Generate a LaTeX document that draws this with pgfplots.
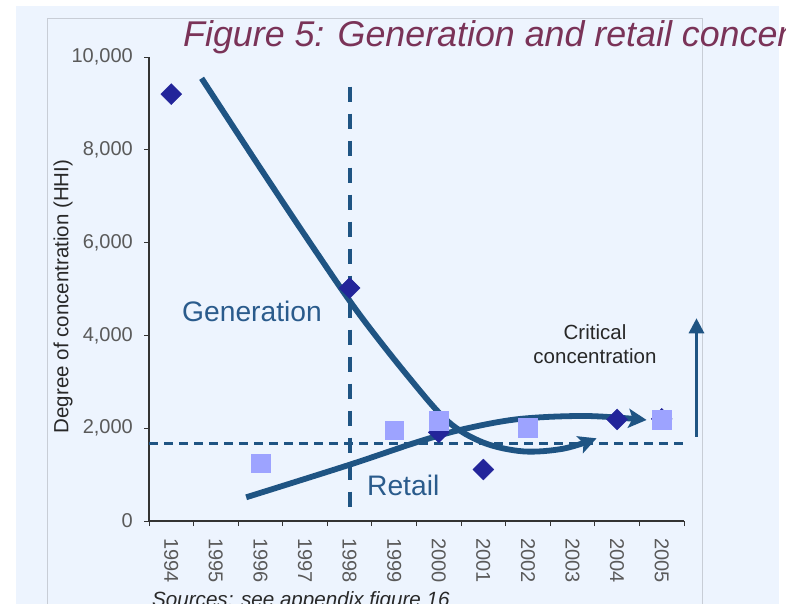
\documentclass[border=0pt]{standalone}
\usepackage{fontspec}
\setmainfont{Liberation Sans}
\usepackage{pgfplots}
\pgfplotsset{compat=1.18}
\usetikzlibrary{arrows.meta}
\definecolor{bgblue}{RGB}{237,244,254}
\definecolor{framegray}{RGB}{200,205,214}
\definecolor{curveblue}{RGB}{31,84,131}
\definecolor{diamondblue}{RGB}{35,37,154}
\definecolor{squareblue}{RGB}{157,163,255}
\definecolor{textblue}{RGB}{42,91,140}
\definecolor{titlepurple}{RGB}{122,51,88}
\definecolor{ticklabelgray}{RGB}{90,90,90}
\definecolor{axisgray}{RGB}{51,51,51}
\definecolor{darktext}{RGB}{40,40,40}
\begin{document}
\begin{tikzpicture}[x=1pt,y=1pt]
\useasboundingbox (0,0) rectangle (786,-603);
\clip (0,0) rectangle (786,-603);
\fill[bgblue] (16,-6) rectangle (779,-610);
\draw[framegray, line width=1pt] (47,-18) rectangle (702,-640);
\node[anchor=base west, inner sep=0pt, text=titlepurple, font=\fontsize{35.8}{42}\selectfont\itshape] at (183,-46.7) {Figure 5: Generation and retail concentration};
\begin{axis}[
  at={(149pt,-521pt)}, anchor=south west,
  scale only axis, width=535pt, height=464pt,
  xmin=-0.5, xmax=11.5, ymin=0, ymax=10000,
  axis lines=left,
  axis line style={-, draw=axisgray, line width=1.2pt},
  clip=false,
  scaled y ticks=false,
  xtick={0,1,...,11},
  xticklabels={1994,1995,1996,1997,1998,1999,2000,2001,2002,2003,2004,2005},
  minor xtick={-0.5,0.5,1.5,2.5,3.5,4.5,5.5,6.5,7.5,8.5,9.5,10.5,11.5},
  ytick={0,2000,4000,6000,8000,10000},
  yticklabels={0,{2,000},{4,000},{6,000},{8,000},{10,000}},
  minor ytick={0,2000,4000,6000,8000,10000},
  major tick length=0pt,
  minor tick length=5pt,
  tick align=outside,
  tick style={draw=axisgray, line width=1pt},
  xticklabel style={rotate=-90, anchor=west, inner sep=0pt, font=\fontsize{20}{24}\selectfont, text=ticklabelgray},
  yticklabel style={anchor=east, inner sep=0pt, font=\fontsize{20}{24}\selectfont, text=ticklabelgray},
  xticklabel shift=17pt,
  yticklabel shift=16pt,
]
% Generation (diamonds)
\addplot[only marks, mark=square*, mark size=7.4pt,
  mark options={rotate=45, fill=diamondblue, draw=diamondblue, line width=0.4pt}]
  coordinates {(0,9200) (4,5020) (6,1910) (7,1110) (10,2190) (11,2200)};
% Retail (squares)
\addplot[only marks, mark=square*, mark size=9.3pt,
  mark options={fill=squareblue, draw=squareblue, line width=0.4pt}]
  coordinates {(2,1250) (5,1955) (6,2160) (8,2010) (11,2177)};
% Generation trend curve
\addplot[curveblue, line width=5.8pt, smooth, tension=0.55,
  -{Stealth[length=18pt, width=18pt, inset=4pt]}]
  coordinates {(0.68,9541) (2.0,7600) (3.2,5870) (4.2,4480) (5.3,3130) (6.2,2150) (7.0,1690) (7.9,1500) (8.8,1560) (9.54,1782)};
% Retail trend curve
\addplot[curveblue, line width=5.8pt, smooth, tension=0.55,
  -{Stealth[length=18pt, width=19pt, inset=4pt]}]
  coordinates {(1.68,511) (3.98,1207) (5.58,1720) (6.6,1990) (7.82,2200) (9.31,2263) (10.66,2177)};
% critical concentration dashed line
\addplot[curveblue, line width=2.5pt, dash pattern=on 9pt off 6pt]
  coordinates {(-0.5,1670) (11.48,1670)};
% 1998 vertical dashed line
\addplot[curveblue, line width=4pt, dash pattern=on 15pt off 12pt]
  coordinates {(4,9360) (4,237)};
% upward arrow
\addplot[curveblue, line width=3pt, -{Triangle[length=15pt, width=15pt]}]
  coordinates {(11.78,1811) (11.78,4369)};
\end{axis}
\node[rotate=90, inner sep=0pt, text=darktext, font=\fontsize{20.5}{24}\selectfont] at (63,-296.5) {Degree of concentration (HHI)};
\node[anchor=base west, inner sep=0pt, text=textblue, font=\fontsize{28.2}{32}\selectfont] at (182,-321.5) {Generation};
\node[anchor=base west, inner sep=0pt, text=textblue, font=\fontsize{28.2}{32}\selectfont] at (367,-495) {Retail};
\node[anchor=base, inner sep=0pt, text=darktext, font=\fontsize{20.5}{24}\selectfont] at (595,-339) {Critical};
\node[anchor=base, inner sep=0pt, text=darktext, font=\fontsize{20.5}{24}\selectfont] at (595,-363) {concentration};
\node[anchor=base west, inner sep=0pt, text=darktext, font=\fontsize{20.6}{24}\selectfont\itshape] at (152,-606) {Sources: see appendix figure 16};
\end{tikzpicture}
\end{document}
